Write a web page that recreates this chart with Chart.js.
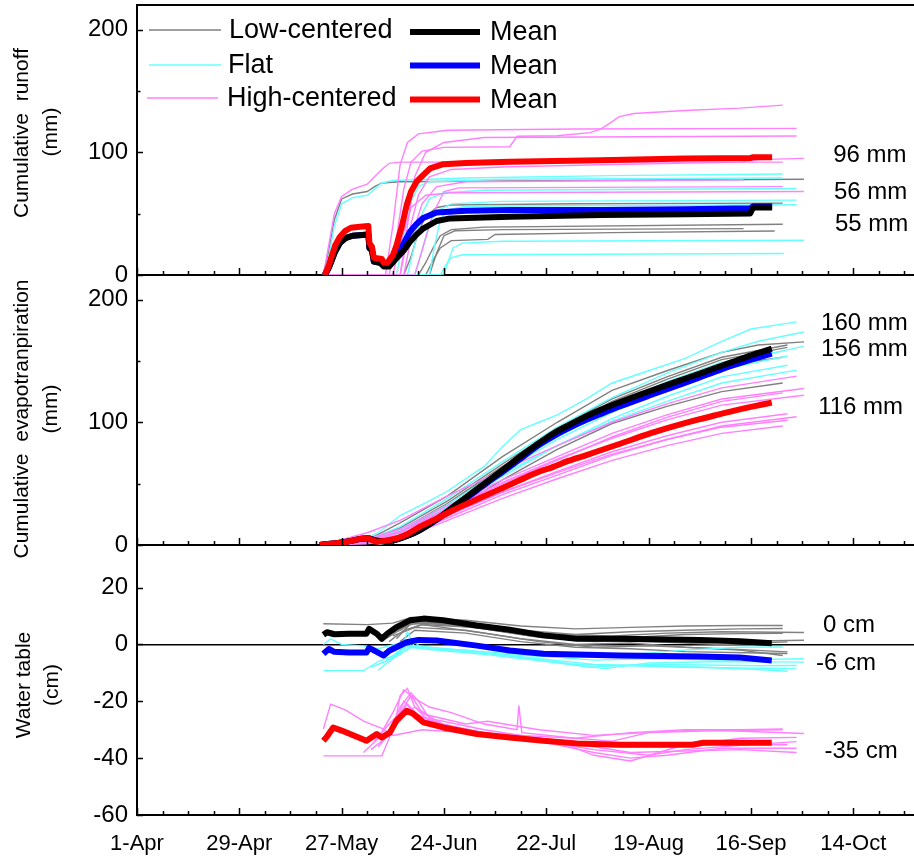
<!DOCTYPE html>
<html>
<head>
<meta charset="utf-8">
<title>Runoff, evapotranspiration and water table by polygon type</title>
<script src="https://cdn.jsdelivr.net/npm/chart.js@4.4.0/dist/chart.umd.min.js"></script>
<style>
  html, body { margin: 0; padding: 0; background: #fff; overflow: hidden; width: 914px; height: 858px; }
  canvas { position: absolute; left: 0; }
</style>
</head>
<body>
<canvas id="runoffChart" width="930" height="290" style="top:0px"></canvas>
<canvas id="etChart" width="930" height="290" style="top:270px"></canvas>
<canvas id="wtChart" width="930" height="318" style="top:540px"></canvas>
<script>
// x values are days counted from 1 April
const dateLabels = ['1-Apr', '29-Apr', '27-May', '24-Jun', '22-Jul', '19-Aug', '16-Sep', '14-Oct'];
const weekTicks = [0, 7, 14, 21, 28, 35, 42, 49, 56, 63, 70, 77, 84, 91, 98, 105, 112, 119, 126, 133, 140, 147, 154, 161, 168, 175, 182, 189, 196, 203, 210];

// ---- Cumulative runoff (mm), one array of [day, value] per plot ----
const runoffLow = [
  [[51,0],[52.5,20],[54,45],[56,62],[59,66],[63,68],[65,72],[67,75],[72,76],[120,77],[182.5,78]],
  [[51,0],[73,0],[75,15],[77,35],[79,48],[82,55],[86,57],[120,58],[176.7,58.6]],
  [[51,0],[77,0],[79,10],[81,22],[83,32],[86,37],[95,39],[176.7,41.3]],
  [[51,0],[79,0],[81,12],[83,22],[86,28],[96,29],[98,33],[130,34.5],[174.5,35.9]],
  [[51,0],[80,0],[82,18],[84,32],[87,36],[100,37],[166,37.8]]
];
const runoffFlat = [
  [[51,0],[52.5,15],[54,40],[56,58],[59,63],[63,65],[65,70],[67,75],[70,77],[90,79],[130,81],[176.7,82.3]],
  [[51,0],[74,0],[76,25],[78,50],[80,62],[84,67],[95,69],[180.5,70.5]],
  [[51,0],[76,0],[78,20],[80,42],[82,52],[86,58],[100,60],[180.5,61]],
  [[51,0],[80,0],[81.5,25],[83,45],[85,53],[90,56],[180.5,57.3]],
  [[51,0],[84,0],[85,10],[86.5,22],[89,26],[100,27.5],[182.5,28.3]],
  [[51,0],[83,0],[84.5,8],[86,14],[89,16.5],[177,17.5]],
  [[51,0],[71,0],[73,30],[75,60],[77,72],[80,76],[100,78],[176.7,79]]
];
const runoffHigh = [
  [[51,0],[69,0],[71,30],[73,70],[75,92],[78,101],[84,104],[102,104.5],[104,113],[115,113.5],[124,116],[127,119],[129,123],[132,129],[136,131.6],[150,134],[165,136],[176.7,138.4]],
  [[51,0],[68,0],[70,40],[72,90],[74,108],[77,115],[85,118],[120,119],[180.5,119.5]],
  [[51,0],[72,0],[74,40],[76,80],[79,100],[84,108],[95,112],[180.5,113.2]],
  [[51,0],[52.5,25],[54,50],[56,64],[59,70],[63,74],[65,80],[67,86],[69,91],[72,92],[176.7,92]],
  [[51,0],[72,0],[74,30],[77,65],[80,80],[86,86],[100,88],[130,90],[165,92],[170,94],[182.5,95]],
  [[51,0],[73,0],[75,30],[78,58],[82,72],[90,76],[166,77.6]],
  [[51,0],[70,0],[72,25],[75,55],[79,65],[86,67],[182.5,68]],
  [[51,0],[76,0],[78,20],[81,50],[84,68],[88,71],[176.7,72]]
];
const runoffMeanLow = [[51.4,0],[52.5,6],[54.2,19],[55.5,26],[57,30],[59,32],[63.3,33],[63.6,22],[64.3,20],[64.8,11],[66.5,10],[67.5,7],[69,7],[71,13.6],[73,20],[74.7,27],[76.5,33],[78.4,38],[82,44],[85.7,46.1],[102,47.5],[127,48.8],[150,49.5],[167.8,50.2],[168.6,55],[173.8,55]];
const runoffMeanFlat = [[51.4,0],[52.5,6],[54.2,19],[55.5,26],[57,30],[59,32],[63.3,33],[63.6,22],[64.3,20],[64.8,11],[66.5,10],[67.5,8],[69,8.5],[71,16],[73,26],[74.7,35.3],[76.5,41.5],[78.3,46.4],[82,51],[90,52.3],[102,52.9],[127,53],[150,53.5],[167.8,54.3],[168.6,56],[173.8,56]];
const runoffMeanHigh = [[51.4,0],[52.5,8],[54.2,24],[55.5,31],[57,36],[58.5,38.5],[61,39.3],[63.3,40],[63.6,26],[64.3,23],[64.8,14],[67,13],[67.5,10],[68.5,10],[70,16],[71,24],[72.5,40],[73.8,57],[75,68],[76.5,76],[78.5,82],[80.2,86.8],[83.8,90.3],[90,91.2],[102,92.2],[126.7,93.6],[150,95],[167.8,95.3],[168.6,96],[173.8,96]];

// ---- Cumulative evapotranspiration (mm) ----
const etLow = [
  [[51,0],[63,4],[72,18],[85,40],[100,72],[115,100],[130,126],[145,142],[160,157],[170,163],[182.5,165.5]],
  [[51,0],[63,3],[72,12],[85,34],[100,64],[115,93],[130,117],[145,135],[160,151],[178,161]],
  [[51,0],[63,2],[72,8],[85,26],[100,53],[115,78],[130,99],[145,113],[160,125],[176.7,132]],
  [[51,0],[63,3],[72,11],[85,33],[100,63],[115,90],[130,113],[145,131],[160,146],[176.7,153]],
  [[51,0],[63,4],[72,14],[85,36],[100,66],[115,95],[130,119],[145,137],[160,153],[178,163]]
];
const etFlat = [
  [[51,0],[60,3],[63,6],[66,10],[72,24],[80,36],[85,44],[95,64],[100,80],[105,94],[110,100],[115,106],[123,119],[130,132],[140,142],[150,152],[160,166],[168,176],[180.5,181.8]],
  [[51,0],[63,4],[72,15],[85,38],[100,68],[115,96],[130,120],[145,140],[160,157],[170,166],[182.5,173.6]],
  [[51,0],[63,3],[72,12],[85,33],[100,62],[115,88],[130,111],[145,130],[160,147],[182.5,162]],
  [[51,0],[63,2],[72,10],[85,31],[100,60],[115,86],[130,108],[145,127],[160,143],[178,154]],
  [[51,0],[63,2],[72,8],[85,27],[100,56],[115,81],[130,103],[145,121],[160,137],[178,146.5]],
  [[51,0],[63,3],[72,11],[85,30],[100,58],[115,81],[130,101],[145,117],[160,132],[180.5,142.5]],
  [[66,0],[72,5],[85,28],[100,62],[115,90],[130,114],[145,133],[160,149],[176.7,158]]
];
const etHigh = [
  [[51,0],[58,6],[63,10],[72,20],[85,40],[100,61],[115,81],[130,100],[145,115],[160,128],[180.5,137.6]],
  [[51,0],[63,5],[72,13],[85,32],[100,53],[115,72],[130,91],[145,106],[160,119],[182.5,127.5]],
  [[51,0],[63,4],[72,11],[85,30],[100,51],[115,70],[130,87],[145,102],[160,114],[182.5,122]],
  [[51,0],[63,3],[72,10],[85,29],[100,50],[115,69],[130,88],[145,104],[160,117],[176.7,124]],
  [[51,0],[63,2],[72,7],[85,24],[100,43],[115,60],[130,76],[145,89],[160,100],[178,107]],
  [[51,0],[63,2],[72,6],[85,22],[100,41],[115,57],[130,73],[145,86],[160,97],[180.5,104.5]],
  [[51,0],[63,3],[72,8],[85,24],[100,43],[115,59],[130,74],[145,86],[160,96],[178,101.7]],
  [[51,0],[63,1],[72,5],[85,20],[100,38],[115,54],[130,69],[145,81],[160,91],[176.7,97]]
];
const etMeanLow = [[50,0],[57,2.5],[63,5.4],[65.6,3.5],[68,3.2],[71,4.5],[74,7.5],[77.4,12.2],[82,21],[86.6,31.2],[91,41],[95.7,51.5],[100,61],[104.8,71.9],[109,81],[113.9,90.9],[118,97.5],[123,105],[126.7,110],[132.2,116.5],[140.4,125.5],[147,132.5],[154,139.7],[158,144],[163.2,149.5],[168,154.5],[173.7,160]];
const etMeanFlat = [[50,0],[57,2.5],[63,5.4],[65.6,3.5],[68,3.2],[71,4.5],[74,7.5],[77.4,12.2],[82,20.5],[86.6,30.5],[91,40],[95.7,50.5],[100,59.5],[104.8,70],[109,79.5],[113.9,88.5],[118,95],[123,102],[126.7,106.5],[132.2,113],[140.4,122],[147,129],[154,136.5],[158,141],[163.2,146.5],[168,151],[173.7,156]];
const etMeanHigh = [[50,0],[57,2.5],[62.9,5.4],[65.6,2.7],[68,3.5],[71,5.4],[74,9],[77.4,14.9],[82,21.5],[86.6,28.5],[91,34.5],[95.7,40.7],[100,46.5],[104.8,52.9],[109,58.5],[113.9,63.7],[118,68.5],[123,73.3],[126.7,77],[132.2,82.5],[140.4,90.9],[147,96.8],[154,102.5],[158,105.5],[163.2,109.3],[168,112.5],[173.7,116]];

// ---- Water table (cm) ----
const wtLow = [
  [[51,7.3],[63,7],[70,7.5],[75,9.5],[90,8.5],[105,6.5],[120,5.5],[135,6],[150,6.5],[165,6.7],[176.7,6.7]],
  [[66,3],[72,5],[76,8],[90,7],[105,5],[120,3.5],[135,4.5],[150,5],[165,5.5],[176.7,5.6]],
  [[68,2],[73,6],[77,8],[90,6.5],[105,4],[120,2],[135,2.5],[150,3.5],[165,3.8],[176.7,3.9]],
  [[70,4],[74,7],[80,7.5],[95,5.5],[110,2.5],[125,1],[140,1.5],[155,1.2],[170,1.2],[182.5,1.5]],
  [[69,1],[73,5],[78,7],[95,4],[110,1],[125,-1],[140,-0.5],[160,-1.5],[178,-2.6]],
  [[70,3],[76,6],[90,5],[105,2],[120,0],[135,0.5],[150,-1],[165,-2],[176.7,-3.9]],
  [[72,4],[78,7],[92,6],[108,3],[122,1.5],[140,1],[160,0],[178,0.9]],
  [[71,2],[75,7.5],[85,7],[100,5.5],[115,3.5],[130,3],[145,4],[160,4.5],[182.5,4.2]],
  [[72,1],[76,5],[90,4],[105,1],[120,-1],[135,-1.5],[150,-2.5],[170,-3],[178,-3.2]]
];
const wtFlat = [
  [[51,-9.2],[62,-9.2],[66,-6],[70,-4],[74,-1],[80,-1.5],[95,-3],[110,-5],[125,-7],[140,-7.5],[155,-8],[170,-8.8],[178,-9.4]],
  [[51,0],[53,2],[56,0],[62,-0.5],[66,-1.5],[72,0.5],[78,-1],[95,-2.5],[110,-4],[125,-5.5],[140,-5],[160,-5.5],[182.5,-5]],
  [[64,-8],[68,-6],[72,-3],[74,4.5],[76,-1],[90,-2],[105,-4.5],[120,-7],[135,-7.5],[150,-8],[165,-8.3],[180.5,-8.6]],
  [[66,-9],[70,-5],[73,-1],[77,-0.5],[92,-2.5],[108,-5],[124,-8],[138,-7],[155,-7.2],[170,-7.5],[180.5,-7.4]],
  [[68,-6],[72,-2],[75,2],[78,-1.5],[95,-3.5],[112,-6],[128,-8.5],[140,-6.5],[160,-6],[182.5,-6.2]],
  [[70,-5],[75,-1],[85,-2],[100,-3.5],[115,-4.5],[130,-4],[150,-2],[165,-1],[176.7,-0.9]]
];
const wtHigh = [
  [[51,-29.7],[53,-21],[57,-23],[62,-27],[67,-29.5],[70,-32],[78,-30],[90,-31],[105,-32],[120,-33],[135,-31],[150,-30],[165,-30],[176.7,-29.7]],
  [[51,-39.2],[67,-39.2],[69,-33],[71,-25],[72,-18],[74,-15.5],[76,-22],[80,-27],[95,-31],[110,-34],[125,-37],[140,-39],[150,-37],[165,-35.5],[180.5,-34.2]],
  [[64,-37],[68,-33],[70,-28],[72,-22],[75,-17],[77,-20],[80,-26],[95,-30],[110,-33],[125,-36],[135,-38],[150,-37.5],[165,-37],[180.5,-38]],
  [[62,-38],[66,-33],[70,-24],[73,-16],[76,-19],[80,-22],[86,-24],[95,-28],[104,-30],[104.5,-21.5],[105.3,-31],[120,-33],[130,-34],[140,-31],[155,-30],[182.5,-31.3]],
  [[66,-36],[70,-30],[73,-20],[76,-24],[82,-28],[95,-31],[110,-34],[125,-38],[135,-40],[145,-39],[160,-36.5],[180.5,-36.5]],
  [[65,-34],[69,-28],[72,-24],[75,-18],[78,-24],[85,-29],[100,-32],[115,-34],[125,-39],[135,-41],[148,-36],[165,-33],[180.5,-32.7]],
  [[68,-33],[71,-26],[74,-21],[77,-25],[88,-30],[102,-32],[118,-34],[130,-36],[145,-36],[160,-35],[178,-35.3]],
  [[70,-30],[73,-25],[76,-22],[80,-25],[90,-28],[96,-27],[110,-30],[125,-32],[140,-31],[155,-30.5],[176.7,-30]]
];
const wtMeanLow = [[51,3.4],[52,4.3],[54,3.6],[58,3.8],[62.8,3.8],[63.5,5.5],[65.6,3.8],[67,2],[68.5,3.8],[71,6.1],[74.7,8.5],[78.4,9.1],[83.8,8.5],[93,6.7],[102,5.2],[111.2,3.2],[120.3,2],[132,2],[154,1.6],[165,1.1],[173.7,0.4]];
const wtMeanFlat = [[51,-3.3],[52.5,-1.6],[54,-2.6],[58,-2.8],[62.8,-2.8],[63.5,-1.2],[65.6,-2.6],[67.5,-3.9],[69,-2.2],[73.8,0.8],[77,1.6],[82,1.4],[93,-0.4],[102,-2.1],[111.2,-3.3],[132,-3.9],[154,-4.2],[165,-4.6],[173.7,-5.6]];
const wtMeanHigh = [[51,-33.9],[51.8,-32.7],[53.7,-29.2],[56,-30.3],[62.8,-33.9],[65.6,-31.5],[67,-32.7],[69.2,-31],[71,-26.8],[73.8,-23.3],[75.6,-24.4],[78.4,-27.4],[83.8,-29.2],[93,-31.5],[102,-32.7],[111.2,-33.9],[120.3,-34.8],[132.2,-35.3],[152,-35.3],[155,-34.6],[173.7,-34.6]];

const FONT = "'Liberation Sans', Arial, sans-serif";
const X_MAX = 217;
const GRAY = '#808080', CYAN = '#66ffff', PINK = '#ff80ff';

const toXY = pts => pts.map(([x, y]) => ({ x, y }));
const lastValue = pts => Math.round(pts[pts.length - 1][1]);

function thinLines(lines, color) {
  return lines.map(pts => ({ data: toXY(pts), borderColor: color, borderWidth: 1.4, order: 10 }));
}
function meanLine(pts, color, order, smooth) {
  return {
    data: toXY(pts), borderColor: color, borderWidth: 6, borderJoinStyle: 'round', order,
    cubicInterpolationMode: smooth ? 'monotone' : 'default'
  };
}
function panelDatasets(low, flat, high, mLow, mFlat, mHigh, smooth) {
  return [
    meanLine(mHigh, '#ff0000', 0, smooth),
    meanLine(mLow, '#000000', 1, smooth),
    meanLine(mFlat, '#0000ff', 2, smooth),
    ...thinLines(high, PINK),
    ...thinLines(flat, CYAN),
    ...thinLines(low, GRAY)
  ];
}

// per-panel extras: axis title, end-of-mean labels, legend
const panels = {
  runoffChart: {
    title: ['Cumulative  runoff', '(mm)'], titleX: [22, 51], titleDy: [-7, -8],
    frameTop: true,
    notes: [
      { text: lastValue(runoffMeanHigh) + ' mm', day: 190.5, value: 97.7 },
      { text: lastValue(runoffMeanFlat) + ' mm', day: 190.7, value: 67.6 },
      { text: lastValue(runoffMeanLow) + ' mm', day: 191, value: 41.5 }
    ],
    legend: [
      { label: 'Low-centered', color: GRAY, width: 1.5, x0: 149, x1: 221, y: 30, tx: 229 },
      { label: 'Flat', color: CYAN, width: 1.5, x0: 149, x1: 221, y: 65, tx: 228 },
      { label: 'High-centered', color: PINK, width: 1.5, x0: 147, x1: 218, y: 98, tx: 227 },
      { label: 'Mean', color: '#000000', width: 6, x0: 410, x1: 480, y: 32, tx: 490 },
      { label: 'Mean', color: '#0000ff', width: 6, x0: 410, x1: 480, y: 65.5, tx: 490 },
      { label: 'Mean', color: '#ff0000', width: 6, x0: 410, x1: 480, y: 99.5, tx: 490 }
    ]
  },
  etChart: {
    title: ['Cumulative  evapotranpiration', '(mm)'], titleX: [22, 51], titleDy: [9, -1],
    notes: [
      { text: lastValue(etMeanLow) + ' mm', day: 187.2, value: 180.7 },
      { text: lastValue(etMeanFlat) + ' mm', day: 187.2, value: 159.5 },
      { text: lastValue(etMeanHigh) + ' mm', day: 186.4, value: 112.3 }
    ]
  },
  wtChart: {
    title: ['Water table', '(cm)'], titleX: [24, 52], titleDy: [5, 5],
    notes: [
      { text: lastValue(wtMeanLow) + ' cm', day: 187.7, value: 6.7 },
      { text: lastValue(wtMeanFlat) + ' cm', day: 185.8, value: -6.7 },
      { text: lastValue(wtMeanHigh) + ' cm', day: 188.1, value: -37.7 }
    ]
  }
};

// inward tick marks, frame, axis titles, value notes and legend
const panelDecor = {
  id: 'panelDecor',
  afterDraw(chart) {
    const p = panels[chart.canvas.id];
    const { ctx, chartArea: a, scales: { x, y } } = chart;
    ctx.save();
    ctx.strokeStyle = '#000';
    ctx.lineWidth = 1.5;
    ctx.beginPath();
    x.ticks.forEach(t => {
      const px = Math.round(x.getPixelForValue(t.value)) + 0.5;
      const len = t.value % 28 === 0 ? 7 : 4;
      ctx.moveTo(px, a.bottom);
      ctx.lineTo(px, a.bottom - len);
    });
    y.ticks.forEach(t => {
      const py = Math.round(y.getPixelForValue(t.value)) + 0.5;
      const len = t.label ? 6 : 3.5;
      ctx.moveTo(a.left, py);
      ctx.lineTo(a.left + len, py);
    });
    ctx.stroke();
    if (p.frameTop) {
      ctx.lineWidth = 2;
      ctx.beginPath();
      ctx.moveTo(a.left - 1, a.top);
      ctx.lineTo(a.right, a.top);
      ctx.stroke();
    }

    ctx.fillStyle = '#000';
    ctx.textAlign = 'center';
    ctx.textBaseline = 'middle';
    ctx.font = '21px ' + FONT;
    const midY = (a.top + a.bottom) / 2;
    p.title.forEach((line, i) => {
      ctx.save();
      ctx.translate(p.titleX[i], midY + p.titleDy[i]);
      ctx.rotate(-Math.PI / 2);
      ctx.fillText(line, 0, 0);
      ctx.restore();
    });

    ctx.textAlign = 'left';
    ctx.font = '24px ' + FONT;
    p.notes.forEach(n => {
      ctx.fillText(n.text, x.getPixelForValue(n.day), y.getPixelForValue(n.value));
    });

    if (p.legend) {
      ctx.font = '27px ' + FONT;
      p.legend.forEach(item => {
        ctx.strokeStyle = item.color;
        ctx.lineWidth = item.width;
        ctx.beginPath();
        ctx.moveTo(item.x0, item.y);
        ctx.lineTo(item.x1, item.y);
        ctx.stroke();
        ctx.fillText(item.label, item.tx, item.y + 1);
      });
    }
    ctx.restore();
  }
};

function makeChart(id, datasets, yCfg, layout) {
  return new Chart(document.getElementById(id), {
    type: 'line',
    data: { datasets },
    options: {
      responsive: false,
      animation: false,
      events: [],
      layout: { padding: { top: 5, bottom: layout.padBottom, left: 0, right: 0 } },
      plugins: { legend: { display: false }, tooltip: { enabled: false } },
      elements: { point: { radius: 0 }, line: { tension: 0, fill: false } },
      scales: {
        x: {
          type: 'linear', min: 0, max: X_MAX,
          afterBuildTicks: s => { s.ticks = weekTicks.map(v => ({ value: v })); },
          afterFit: s => { s.height = layout.xHeight; s.paddingLeft = 0; s.paddingRight = 0; },
          grid: { display: false, drawTicks: false },
          border: { display: true, color: '#000', width: 2 },
          ticks: {
            display: layout.showDates, autoSkip: false, maxRotation: 0, minRotation: 0,
            padding: 16, color: '#000', font: { family: FONT, size: 22 },
            callback: v => (v % 28 === 0 ? dateLabels[v / 28] : '')
          }
        },
        y: {
          type: 'linear', min: yCfg.min, max: yCfg.max,
          afterBuildTicks: s => { s.ticks = yCfg.ticks.map(v => ({ value: v })); },
          afterFit: s => { s.width = 137; s.paddingTop = 0; s.paddingBottom = 0; },
          grid: {
            display: true, drawOnChartArea: yCfg.zeroLine, drawTicks: false,
            color: c => (c.tick && c.tick.value === 0 ? '#000' : 'rgba(0,0,0,0)'),
            lineWidth: 1.5
          },
          border: { display: true, color: '#000', width: 2 },
          ticks: {
            padding: 9, color: '#000', font: { family: FONT, size: 24 },
            callback: v => (yCfg.labels.includes(v) ? String(v) : '')
          }
        }
      }
    },
    plugins: [panelDecor]
  });
}

makeChart('runoffChart',
  panelDatasets(runoffLow, runoffFlat, runoffHigh, runoffMeanLow, runoffMeanFlat, runoffMeanHigh, false),
  { min: 0, max: 220, ticks: [0, 50, 100, 150, 200], labels: [0, 100, 200], zeroLine: false },
  { padBottom: 15, xHeight: 0, showDates: false });

makeChart('etChart',
  panelDatasets(etLow, etFlat, etHigh, etMeanLow, etMeanFlat, etMeanHigh, true),
  { min: 0, max: 220, ticks: [0, 50, 100, 150, 200], labels: [0, 100, 200], zeroLine: false },
  { padBottom: 15, xHeight: 0, showDates: false });

makeChart('wtChart',
  panelDatasets(wtLow, wtFlat, wtHigh, wtMeanLow, wtMeanFlat, wtMeanHigh, false),
  { min: -60, max: 35, ticks: [-60, -50, -40, -30, -20, -10, 0, 10, 20, 30], labels: [-60, -40, -20, 0, 20], zeroLine: true },
  { padBottom: 0, xHeight: 43, showDates: true });
</script>
</body>
</html>
